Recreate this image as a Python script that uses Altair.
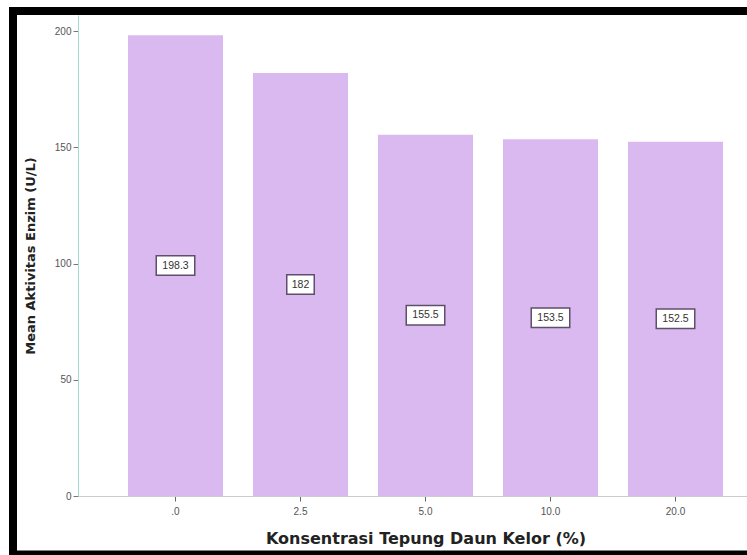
import altair as alt
import pandas as pd

categories = [".0", "2.5", "5.0", "10.0", "20.0"]
values = [198.3, 182, 155.5, 153.5, 152.5]
labels = ["198.3", "182", "155.5", "153.5", "152.5"]
y_ticks = [0, 50, 100, 150, 200]

df = pd.DataFrame({"cat": categories, "val": values, "lab": labels})

x_enc = alt.X(
    "cat:N",
    sort=categories,
    scale=alt.Scale(range=[0, 695], paddingInner=0.24, paddingOuter=0.4),
    axis=alt.Axis(
        title="Konsentrasi Tepung Daun Kelor (%)",
        titleFont="DejaVu Sans", titleFontSize=16, titleFontWeight="bold",
        titleColor="#222", titleY=42, titleBaseline="middle",
        labelAngle=0, labelFont="Liberation Sans", labelFontSize=10,
        labelColor="#555", labelPadding=5,
        domainColor="#cccccc", tickColor="#666", tickSize=5,
    ),
)

base = alt.Chart(df)

bars = base.mark_bar(color="#DAB9F1").encode(
    x=x_enc,
    y=alt.Y(
        "val:Q",
        scale=alt.Scale(domain=[0, 207], nice=False),
        axis=alt.Axis(
            title="Mean Aktivitas Enzim (U/L)",
            titleFont="DejaVu Sans", titleFontSize=13, titleFontWeight="bold",
            titleColor="#222", titleX=-48, titleBaseline="middle",
            values=y_ticks, labelFont="Liberation Sans", labelFontSize=10,
            labelColor="#555", domainColor="#a3d9cf", tickColor="#777",
            tickSize=5, grid=False,
        ),
    ),
)

boxes = base.transform_calculate(
    y1="datum.val/2 - 4.2", y2="datum.val/2 + 4.2", w="length(datum.lab)*5.5 + 11"
).mark_bar(fill="white", stroke="#5e4f6a", strokeWidth=1.5).encode(
    x=alt.X("cat:N", sort=categories),
    y="y1:Q",
    y2="y2:Q",
    size=alt.Size("w:Q", scale=None, legend=None),
)

texts = base.transform_calculate(mid="datum.val/2").mark_text(
    font="Liberation Sans", fontSize=10.5, color="#333", baseline="middle"
).encode(
    x=alt.X("cat:N", sort=categories),
    y="mid:Q",
    text="lab:N",
)

frame_df = pd.DataFrame({"a": [0]})
fr = alt.Chart(frame_df)
top = fr.mark_rule(color="black", strokeWidth=8).encode(
    x=alt.value(-69), x2=alt.value(669), y=alt.value(-4)
)
left = fr.mark_rule(color="black", strokeWidth=8).encode(
    x=alt.value(-65), y=alt.value(-8), y2=alt.value(545)
)
bottom = fr.mark_rule(color="black", strokeWidth=5).encode(
    x=alt.value(-69), x2=alt.value(669), y=alt.value(538)
)

chart = alt.layer(bars, boxes, texts, top, left, bottom).properties(
    width=669,
    height=481,
    padding={"left": 78, "top": 15, "right": 0, "bottom": 59},
    autosize=alt.AutoSizeParams(type="none"),
    background="white",
).configure_view(stroke=None)

chart.save("out.html", embed_options={"renderer": "svg", "actions": False})
